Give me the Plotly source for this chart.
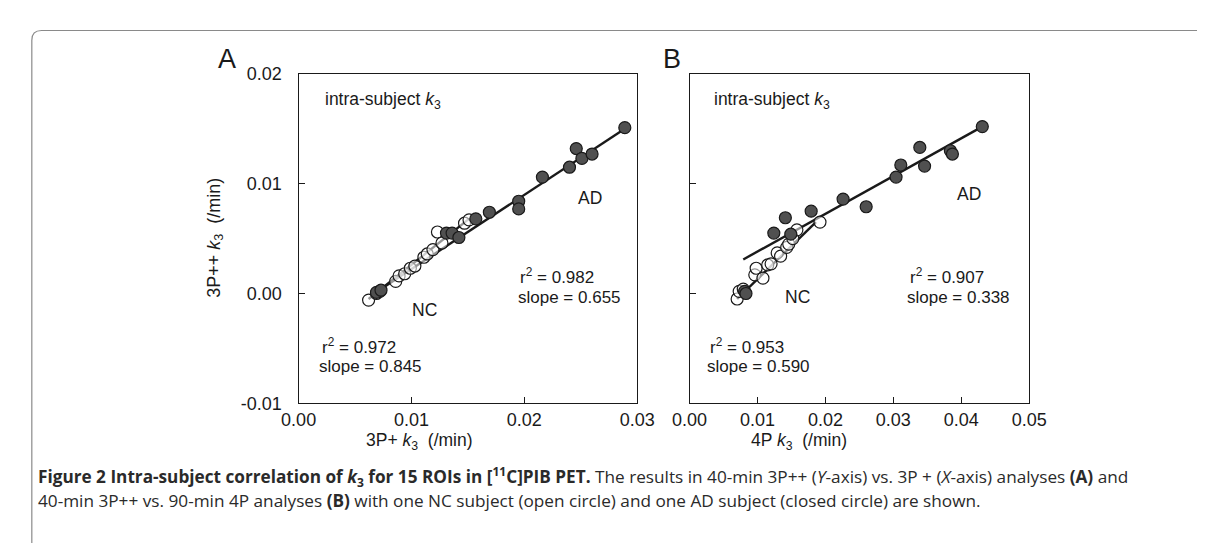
import plotly.graph_objects as go

# ---------------- data ----------------
# Panel A: 3P+ k3 (x) vs 3P++ k3 (y)
ncA_x = [0.0062, 0.0069, 0.0072, 0.0086, 0.0089, 0.0094, 0.0099, 0.0103, 0.0111, 0.0114, 0.0119, 0.0123, 0.0127, 0.0147, 0.0151]
ncA_y = [-0.0006, 0.0000, 0.0002, 0.0011, 0.0016, 0.0018, 0.0023, 0.0025, 0.0033, 0.0036, 0.0040, 0.0056, 0.0046, 0.0064, 0.0067]
adA_x = [0.0069, 0.0073, 0.0131, 0.0136, 0.0142, 0.0157, 0.0169, 0.0195, 0.0195, 0.0216, 0.0240, 0.0246, 0.0251, 0.0260, 0.0289]
adA_y = [0.0001, 0.0003, 0.0055, 0.0055, 0.0051, 0.0068, 0.0074, 0.0084, 0.0077, 0.0106, 0.0115, 0.0132, 0.0123, 0.0127, 0.0151]
fitA_nc_x = [0.0062, 0.0151]
fitA_nc_y = [-0.0005, 0.0068]
fitA_ad_x = [0.0067, 0.0289]
fitA_ad_y = [0.0000, 0.0150]

# Panel B: 4P k3 (x) vs 3P++ k3 (y)
ncB_x = [0.0070, 0.0073, 0.0079, 0.0096, 0.0098, 0.0108, 0.0115, 0.0120, 0.0129, 0.0134, 0.0143, 0.0146, 0.0152, 0.0158, 0.0192]
ncB_y = [-0.0005, 0.0002, 0.0004, 0.0017, 0.0023, 0.0014, 0.0026, 0.0027, 0.0037, 0.0034, 0.0042, 0.0045, 0.0050, 0.0058, 0.0065]
adB_x = [0.0081, 0.0083, 0.0124, 0.0141, 0.0149, 0.0179, 0.0226, 0.0260, 0.0304, 0.0311, 0.0339, 0.0346, 0.0384, 0.0387, 0.0431]
adB_y = [0.0002, 0.0000, 0.0055, 0.0069, 0.0054, 0.0075, 0.0086, 0.0079, 0.0106, 0.0117, 0.0133, 0.0116, 0.0130, 0.0127, 0.0152]
fitB_nc_x = [0.0070, 0.0186]
fitB_nc_y = [-0.0005, 0.0065]
fitB_ad_x = [0.0079, 0.0431]
fitB_ad_y = [0.0031, 0.0152]

xticksA = [0.00, 0.01, 0.02, 0.03]
xticksA_text = ["0.00", "0.01", "0.02", "0.03"]
xticksB = [0.00, 0.01, 0.02, 0.03, 0.04, 0.05]
xticksB_text = ["0.00", "0.01", "0.02", "0.03", "0.04", "0.05"]
yticks = [-0.01, 0.00, 0.01, 0.02]
yticks_text = ["-0.01", "0.00", "0.01", "0.02"]

statsA = [("r<sup>2</sup> = 0.982", "slope = 0.655"), ("r<sup>2</sup> = 0.972", "slope = 0.845")]
statsB = [("r<sup>2</sup> = 0.907", "slope = 0.338"), ("r<sup>2</sup> = 0.953", "slope = 0.590")]

# ---------------- figure ----------------
W, H = 1207, 545
def px(x):
    return x / W
def py(y):
    return 1 - y / H

FONT = "Liberation Sans, Arial, sans-serif"
INK = "#1a1a1a"

fig = go.Figure()

def add_panel(xs_nc, ys_nc, xs_ad, ys_ad, fnx, fny, fax, fay, xa, ya):
    fig.add_trace(go.Scatter(x=fnx, y=fny, mode="lines", line=dict(color=INK, width=2.4),
                             xaxis=xa, yaxis=ya, showlegend=False, hoverinfo="skip"))
    fig.add_trace(go.Scatter(x=fax, y=fay, mode="lines", line=dict(color=INK, width=2.4),
                             xaxis=xa, yaxis=ya, showlegend=False, hoverinfo="skip"))
    fig.add_trace(go.Scatter(x=xs_nc, y=ys_nc, mode="markers",
                             marker=dict(size=12, color="rgba(255,255,255,0.55)",
                                         line=dict(color=INK, width=1.2)),
                             xaxis=xa, yaxis=ya, showlegend=False, name="NC"))
    fig.add_trace(go.Scatter(x=xs_ad, y=ys_ad, mode="markers",
                             marker=dict(size=12, color="#505050",
                                         line=dict(color=INK, width=1.2)),
                             xaxis=xa, yaxis=ya, showlegend=False, name="AD"))

add_panel(ncA_x, ncA_y, adA_x, adA_y, fitA_nc_x, fitA_nc_y, fitA_ad_x, fitA_ad_y, "x", "y")
add_panel(ncB_x, ncB_y, adB_x, adB_y, fitB_nc_x, fitB_nc_y, fitB_ad_x, fitB_ad_y, "x2", "y2")

axis_common = dict(showgrid=False, zeroline=False, showline=True, mirror=True,
                   linecolor=INK, linewidth=1.4, ticks="inside", ticklen=6,
                   tickcolor=INK, tickwidth=1.2,
                   tickfont=dict(family=FONT, size=18, color=INK))

fig.update_layout(
    width=W, height=H, autosize=False,
    margin=dict(l=0, r=0, t=0, b=0),
    paper_bgcolor="white", plot_bgcolor="white",
    xaxis=dict(domain=[px(281), px(630)], range=[0, 0.03], tickvals=xticksA, ticktext=xticksA_text,
               anchor="y", ticklabelstandoff=0, **axis_common),
    yaxis=dict(domain=[py(400), py(58)], range=[-0.01, 0.02], tickvals=yticks, ticktext=yticks_text,
               anchor="x", ticklabelstandoff=12, **axis_common),
    xaxis2=dict(domain=[px(684), px(1034)], range=[0, 0.05], tickvals=xticksB, ticktext=xticksB_text,
                anchor="y2", ticklabelstandoff=0, **axis_common),
    yaxis2=dict(domain=[py(400), py(58)], range=[-0.01, 0.02], tickvals=yticks,
                anchor="x2", showticklabels=False, **axis_common),
)

ann = []
def text(x, y, s, size=17, xanchor="left", yanchor="middle", angle=0, family=FONT, color=INK, align="left"):
    ann.append(dict(x=px(x), y=py(y), xref="paper", yref="paper", text=s, showarrow=False,
                    xanchor=xanchor, yanchor=yanchor, textangle=angle, align=align,
                    font=dict(family=family, size=size, color=color)))

NB = "\u00a0"
# panel letters
text(207, 43, "A", size=27, xanchor="center")
text(666, 43, "B", size=27, xanchor="center")
# in-panel labels
for x0 in (306, 707):
    text(x0, 86, "intra-subject <i>k</i><sub>3</sub>", size=17.5)
text(581, 187, "AD", size=17.5, xanchor="center")
text(972, 183, "AD", size=17.5, xanchor="center")
text(411, 303, "NC", size=17.5, xanchor="center")
text(795, 290, "NC", size=17.5, xanchor="center")
# statistics
text(507, 268, statsA[0][0])
text(505, 290, statsA[0][1])
text(303, 340, statsA[1][0])
text(300, 362, statsA[1][1])
text(909, 268, statsB[0][0])
text(906, 290, statsB[0][1])
text(703, 340, statsB[1][0])
text(700, 362, statsB[1][1])
# axis titles
text(406, 440, "3P+ <i>k</i><sub>3</sub>" + NB + NB + "(/min)", size=17.5, xanchor="center")
text(797, 440, "4P <i>k</i><sub>3</sub>" + NB + NB + "(/min)", size=17.5, xanchor="center")
text(195, 228, "3P++ <i>k</i><sub>3</sub>" + NB + NB + "(/min)", size=18, xanchor="center", angle=-90)

# caption
CAP = "Open Sans, Noto Sans, sans-serif"
line1 = ("<b>Figure 2 Intra-subject correlation of <i>k</i><sub>3</sub> for 15 ROIs in "
         "[<sup>11</sup>C]PIB PET.</b> The results in 40-min 3P++ (<i>Y</i>-axis) vs. 3P + (<i>X</i>-axis) "
         "analyses <b>(A)</b> and")
line2 = ("40-min 3P++ vs. 90-min 4P analyses <b>(B)</b> with one NC subject (open circle) "
         "and one AD subject (closed circle) are shown.")
text(10, 476, line1, size=17.2, family=CAP, color="#2a2a2a")
text(10, 501, line2, size=17.2, family=CAP, color="#2a2a2a")
fig.update_layout(annotations=ann)

# outer frame with a rounded top-left corner
r = 10
x0, y0 = 6, 13
path = (f"M {px(x0)} {py(H)} L {px(x0)} {py(y0 + r)} "
        f"Q {px(x0)} {py(y0)} {px(x0 + r)} {py(y0)} L {px(W)} {py(y0)}")
fig.add_shape(type="path", path=path, xref="paper", yref="paper",
              line=dict(color="#8a8a8a", width=1.2))

fig.write_html("out.html")
